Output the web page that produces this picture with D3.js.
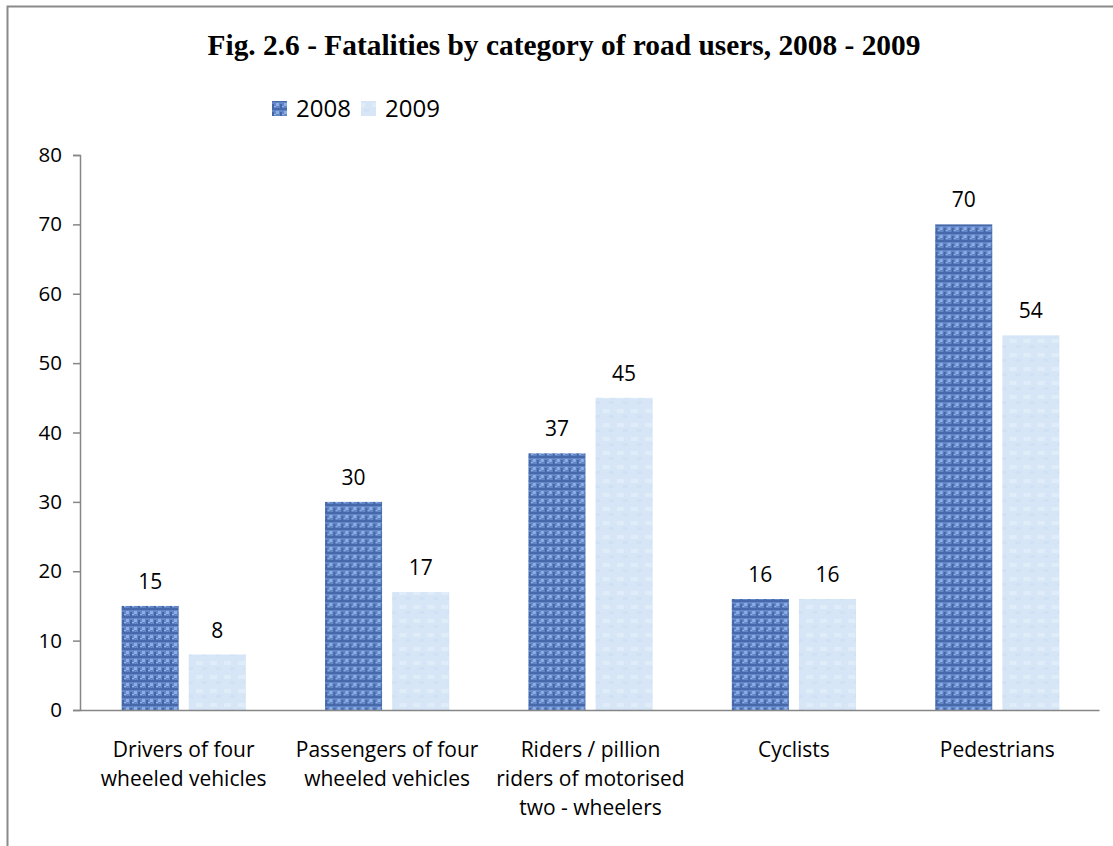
<!DOCTYPE html>
<html><head><meta charset="utf-8">
<script src="https://cdn.jsdelivr.net/npm/d3@7"></script>
<style>body{margin:0;background:#fff}svg{display:block}</style>
</head><body>
<svg id="c" width="1113" height="846"></svg>
<script>
const categories = [["Drivers of four","wheeled vehicles"],["Passengers of four","wheeled vehicles"],["Riders / pillion","riders of motorised","two - wheelers"],["Cyclists"],["Pedestrians"]];
const seriesNames = ["2008","2009"];
const values2008 = [15,30,37,16,70];
const values2009 = [8,17,45,16,54];
const yTicks = [0,10,20,30,40,50,60,70,80];
const title = "Fig. 2.6 - Fatalities by category of road users, 2008 - 2009";

const svg = d3.select("#c");
const font = "'Open Sans', 'Noto Sans', sans-serif";
const defs = svg.append("defs");

// woven texture for 2008
const p1 = defs.append("pattern").attr("id","tex1").attr("patternUnits","userSpaceOnUse").attr("width",8).attr("height",8);
p1.append("rect").attr("width",8).attr("height",8).attr("fill","#6287c8");
p1.append("rect").attr("x",0).attr("y",0).attr("width",8).attr("height",2).attr("fill","#3d5f9f").attr("opacity",0.75);
p1.append("rect").attr("x",0).attr("y",4).attr("width",2).attr("height",4).attr("fill","#34568f").attr("opacity",0.65);
p1.append("rect").attr("x",4).attr("y",3).attr("width",3).attr("height",3).attr("fill","#98b8ec").attr("opacity",0.8);
p1.append("rect").attr("x",2).attr("y",6).attr("width",2).attr("height",1).attr("fill","#b0c9f0").attr("opacity",0.7);
// light texture for 2009
const p2 = defs.append("pattern").attr("id","tex2").attr("patternUnits","userSpaceOnUse").attr("width",14).attr("height",14);
p2.append("rect").attr("width",14).attr("height",14).attr("fill","#d6e6f7");
p2.append("rect").attr("x",2).attr("y",3).attr("width",7).attr("height",4).attr("fill","#e3eefa").attr("opacity",0.8);
p2.append("rect").attr("x",8).attr("y",9).attr("width",5).attr("height",3).attr("fill","#cddff3").attr("opacity",0.7);

// outer frame
svg.append("rect").attr("x",7.5).attr("y",6.5).attr("width",1200).attr("height",1000)
  .attr("fill","none").attr("stroke","#8a8a8a").attr("stroke-width",2);

svg.append("text").attr("x",564).attr("y",55).attr("text-anchor","middle")
  .attr("font-family","'Liberation Serif', 'Times New Roman', serif").attr("font-weight","bold")
  .attr("font-size",29.4).attr("fill","#000").text(title);

const margin = {left:80, top:155, right:1099, bottom:710};
const y = d3.scaleLinear().domain([0,80]).range([margin.bottom, margin.top]);
const x0 = d3.scaleBand().domain(d3.range(categories.length)).range([82, margin.right]).paddingInner(0).paddingOuter(0);
const x1 = d3.scaleBand().domain(seriesNames).range([0, x0.bandwidth()]).paddingInner(0.15).paddingOuter(0.59);

// y axis
const yAxis = svg.append("g").attr("transform",`translate(${margin.left},0)`)
  .call(d3.axisLeft(y).tickValues(yTicks).tickSize(7).tickPadding(11));
yAxis.select(".domain").attr("stroke","#868686").attr("stroke-width",1.5);
yAxis.selectAll(".tick line").attr("stroke","#868686").attr("stroke-width",1.5);
yAxis.selectAll("text").attr("font-family",font).attr("font-size",20.5).attr("fill","#000");

const data = categories.map((c,i)=>({i, vals:[values2008[i], values2009[i]]}));
const g = svg.append("g");
const groups = g.selectAll("g.cat").data(data).join("g").attr("transform",d=>`translate(${x0(d.i)},0)`);
groups.selectAll("rect").data(d=>d.vals.map((v,k)=>({k,v}))).join("rect")
  .attr("x",d=>x1(seriesNames[d.k])).attr("width",x1.bandwidth())
  .attr("y",d=>y(d.v)).attr("height",d=>y(0)-y(d.v))
  .attr("fill",d=>d.k===0?"url(#tex1)":"url(#tex2)");
groups.selectAll("text.lbl").data(d=>d.vals.map((v,k)=>({k,v}))).join("text").attr("class","lbl")
  .attr("x",d=>x1(seriesNames[d.k])+x1.bandwidth()/2).attr("y",d=>y(d.v)-17)
  .attr("text-anchor","middle").attr("font-family",font).attr("font-size",21).attr("fill","#000")
  .text(d=>d.v);

// x axis
const xAxis = svg.append("g").attr("transform",`translate(0,${margin.bottom})`)
  .call(d3.axisBottom(d3.scaleLinear().domain([0,1]).range([margin.left, margin.right])).tickSize(0).tickValues([]));
xAxis.select(".domain").attr("stroke","#868686").attr("stroke-width",1.5);
const cl = svg.append("g");
categories.forEach((lines,i)=>{
  const cx = x0(i)+x0.bandwidth()/2;
  const t = cl.append("text").attr("x",cx).attr("y",757)
    .attr("text-anchor","middle").attr("font-family",font).attr("font-size",21).attr("fill","#000");
  lines.forEach((ln,j)=>t.append("tspan").attr("x",cx).attr("dy",j?29:0).text(ln));
});

// legend
const leg = svg.append("g").attr("transform","translate(272,100)");
seriesNames.forEach((s,k)=>{
  const gx = k*89;
  leg.append("rect").attr("x",gx).attr("y",1).attr("width",15).attr("height",15).attr("fill",k===0?"url(#tex1)":"url(#tex2)");
  leg.append("text").attr("x",gx+24).attr("y",17).attr("font-family",font).attr("font-size",24).attr("fill","#000").text(s);
});
</script>
</body></html>
